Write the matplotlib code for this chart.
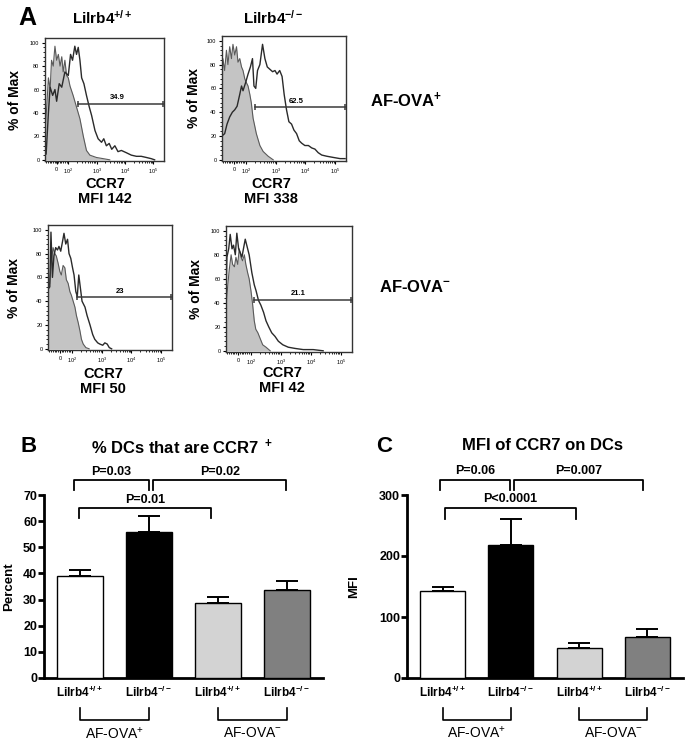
import numpy as np
import matplotlib as mp
mp.use('Agg')
import matplotlib.pyplot as plt

plt.rcParams['font.family'] = ['Liberation Sans', 'DejaVu Sans']
plt.rcParams['mathtext.default'] = 'regular'

# ---- panel A: histogram traces (x in log-display units, y in % of max) ----
# u: 2 = 10^2, 3 = 10^3 ...; "0" sits at about 1.59
g1_u = [1.18, 1.24, 1.30, 1.36, 1.41, 1.47, 1.53, 1.59, 1.65, 1.71, 1.77, 1.82, 1.88, 1.94, 2.00, 2.06, 2.17, 2.29, 2.41, 2.53, 2.64, 2.76, 2.99, 3.23, 3.46]
g1_y = [24, 45, 70, 60, 85, 80, 97, 85, 90, 80, 88, 75, 85, 72, 70, 63, 55, 45, 35, 20, 8, 4, 2, 1, 0]
s1_u = [1.22, 1.30, 1.36, 1.45, 1.53, 1.59, 1.68, 1.77, 1.88, 2.00, 2.08, 2.15, 2.23, 2.29, 2.35, 2.41, 2.47, 2.55, 2.64, 2.74, 2.82, 2.94, 3.05, 3.17, 3.25, 3.34, 3.44, 3.53, 3.64, 3.75, 3.87, 4.05, 4.22, 4.40, 4.57, 4.75, 4.92, 5.04]
s1_y = [5, 40, 62, 55, 60, 50, 65, 62, 75, 72, 90, 85, 97, 90, 96, 85, 70, 65, 55, 45, 38, 25, 18, 15, 18, 12, 14, 9, 12, 7, 8, 6, 4, 3, 3, 2, 1, 0]

g2_u = [1.18, 1.21, 1.27, 1.33, 1.38, 1.44, 1.50, 1.55, 1.61, 1.67, 1.72, 1.78, 1.84, 1.89, 1.95, 2.00, 2.06, 2.12, 2.17, 2.23, 2.29, 2.34, 2.46, 2.57, 2.74, 2.91]
g2_y = [68, 85, 75, 92, 80, 95, 85, 97, 88, 95, 82, 85, 78, 75, 68, 65, 62, 55, 48, 35, 28, 22, 12, 7, 3, 0]
s2_u = [1.18, 1.27, 1.35, 1.44, 1.53, 1.61, 1.69, 1.78, 1.84, 1.89, 1.98, 2.06, 2.14, 2.21, 2.26, 2.32, 2.38, 2.46, 2.55, 2.63, 2.71, 2.80, 2.89, 2.97, 3.04, 3.13, 3.21, 3.28, 3.36, 3.44, 3.53, 3.61, 3.70, 3.79, 3.87, 3.98, 4.10, 4.21, 4.32, 4.43, 4.55, 4.72, 4.94, 5.17, 5.34]
s2_y = [20, 22, 30, 36, 40, 42, 45, 55, 62, 58, 65, 72, 78, 85, 62, 60, 75, 80, 97, 85, 78, 76, 74, 75, 72, 75, 70, 55, 42, 32, 30, 25, 22, 16, 14, 12, 12, 10, 9, 6, 4, 3, 2, 1, 1]

g3_u = [1.18, 1.24, 1.29, 1.35, 1.41, 1.46, 1.52, 1.58, 1.63, 1.69, 1.75, 1.80, 1.86, 1.92, 1.97, 2.03, 2.09, 2.14, 2.20, 2.26, 2.31, 2.37, 2.46, 2.57]
g3_y = [50, 55, 72, 85, 80, 78, 72, 65, 62, 70, 68, 58, 55, 48, 45, 40, 35, 28, 22, 15, 8, 4, 1, 0]
s3_u = [1.18, 1.24, 1.28, 1.33, 1.38, 1.44, 1.50, 1.55, 1.61, 1.67, 1.72, 1.78, 1.84, 1.89, 1.95, 2.01, 2.06, 2.12, 2.17, 2.22, 2.28, 2.33, 2.43, 2.50, 2.60, 2.69, 2.76, 2.86, 2.93, 3.03, 3.10, 3.18, 3.25, 3.33]
s3_y = [50, 52, 98, 60, 78, 85, 83, 86, 82, 90, 97, 88, 92, 80, 76, 68, 62, 48, 44, 62, 50, 40, 35, 28, 20, 12, 8, 5, 4, 3, 5, 4, 1, 0]

g4_u = [1.18, 1.24, 1.29, 1.35, 1.40, 1.46, 1.51, 1.57, 1.62, 1.68, 1.73, 1.79, 1.84, 1.90, 1.95, 2.01, 2.06, 2.12, 2.17, 2.24, 2.32, 2.40, 2.51, 2.65]
g4_y = [37, 55, 68, 80, 72, 70, 78, 72, 85, 78, 75, 80, 72, 65, 60, 50, 40, 25, 18, 15, 10, 5, 3, 0]
s4_u = [1.18, 1.21, 1.27, 1.32, 1.38, 1.43, 1.49, 1.54, 1.60, 1.65, 1.71, 1.76, 1.82, 1.87, 1.95, 2.04, 2.12, 2.18, 2.26, 2.34, 2.43, 2.51, 2.60, 2.70, 2.81, 2.92, 3.07, 3.25, 3.47, 3.75, 4.08, 4.41]
s4_y = [45, 78, 85, 97, 85, 88, 80, 98, 85, 82, 78, 85, 93, 88, 80, 65, 55, 50, 42, 38, 32, 25, 20, 15, 12, 8, 5, 3, 2, 1, 1, 0]

gate_start = [2.35, 2.31, 2.16, 2.12]
gate_level = [48, 44, 43.6, 42.7]
gate_pct = ['34.9', '62.5', '23', '21.1']
mfi_text = ['MFI 142', 'MFI 338', 'MFI 50', 'MFI 42']

# ---- panels B and C ----
groups = ['Lilrb4$^{+/+}$', 'Lilrb4$^{-/-}$', 'Lilrb4$^{+/+}$', 'Lilrb4$^{-/-}$']
pct_mean = [39.0, 55.9, 28.6, 33.5]
pct_err = [2.3, 6.1, 2.5, 3.6]
mfi_mean = [142, 218, 48.5, 68]
mfi_err = [8, 43, 8.5, 13]
bar_colors = ['white', 'black', '#d3d3d3', '#808080']

W, H = 688, 741
fig = plt.figure(figsize=(W / 100, H / 100), dpi=100)


def box(l, t, r, b):
    return [l / W, 1 - b / H, (r - l) / W, (b - t) / H]


def ftext(x, y, s, **kw):
    fig.text(x / W, 1 - y / H, s, **kw)


XL, XR = 1.18, 5.37


def hist(rect, gu, gy, su, sy, k, lab_x):
    ax = fig.add_axes(rect)
    ax.fill_between(gu, gy, color='#c4c4c4', lw=0)
    ax.plot(gu, gy, color='#5a5a5a', lw=0.8)
    ax.plot(su, sy, color='#2a2a2a', lw=1.0)
    ax.plot([gate_start[k], XR - 0.02], [gate_level[k]] * 2, color='#3a3a3a', lw=1.1,
            marker='|', ms=5, mew=1.1, clip_on=False)
    ax.text(gate_start[k] + (XR - gate_start[k]) * 0.45, gate_level[k] + 2, gate_pct[k],
            fontsize=5.5, fontweight='bold', ha='center', va='bottom')
    ax.set_xlim(XL, XR)
    ax.set_ylim(-1, 104)
    ax.set_yticks([0, 20, 40, 60, 80, 100])
    ax.set_yticks(np.arange(0, 101, 4), minor=True)
    ax.set_xticks([1.59, 2, 3, 4, 5])
    ax.set_xticklabels(['0', '$10^2$', '$10^3$', '$10^4$', '$10^5$'])
    minor = list(np.arange(1.22, 2.0, 0.06))
    for d in [2, 3, 4]:
        minor += [d + np.log10(m) for m in range(2, 10)]
    ax.set_xticks(minor, minor=True)
    ax.tick_params(labelsize=4, length=2.5, width=0.8, pad=1.5)
    ax.tick_params(which='minor', length=1.5, width=0.6)
    for s in ax.spines.values():
        s.set_linewidth(1.0)
        s.set_color('#333333')
    ax.set_ylabel('% of Max', fontsize=10, fontweight='bold')
    ax.yaxis.set_label_coords(lab_x, 0.5)
    return ax


hist(box(45, 38, 164, 161), g1_u, g1_y, s1_u, s1_y, 0, -0.19)
hist(box(222, 36, 346, 161), g2_u, g2_y, s2_u, s2_y, 1, -0.17)
hist(box(48, 225, 172, 350), g3_u, g3_y, s3_u, s3_y, 2, -0.22)
hist(box(226, 226, 352, 352), g4_u, g4_y, s4_u, s4_y, 3, -0.18)

ftext(18, 18, 'A', fontsize=18, fontweight='bold', ha='left', va='center')
ftext(102, 18, 'Lilrb4$^{+/+}$', fontsize=11, fontweight='bold', ha='center', va='center')
ftext(273, 18, 'Lilrb4$^{-/-}$', fontsize=11, fontweight='bold', ha='center', va='center')
for (cx, cy), m in zip([(105, 184), (271, 184), (103, 374), (282, 373)], mfi_text):
    ftext(cx, cy, 'CCR7', fontsize=10.5, fontweight='bold', ha='center', va='center')
    ftext(cx, cy + 15, m, fontsize=10.5, fontweight='bold', ha='center', va='center')
ftext(370, 100, 'AF-OVA$^{+}$', fontsize=12, fontweight='bold', ha='left', va='center')
ftext(379, 287, 'AF-OVA$^{-}$', fontsize=12, fontweight='bold', ha='left', va='center')


def bars(rect, mean, err, ymax, step, ylabel, label_x):
    ax = fig.add_axes(rect)
    x = np.arange(len(mean))
    ax.bar(x, mean, width=0.66, color=bar_colors, edgecolor='black', linewidth=1.0, zorder=3)
    ax.errorbar(x, mean, yerr=[np.zeros(len(err)), err], fmt='none', ecolor='black',
                elinewidth=1.4, capsize=8, capthick=1.4, zorder=2)
    ax.set_xlim(-0.52, 3.52)
    ax.set_ylim(0, ymax)
    ax.set_yticks(np.arange(0, ymax + 1, step))
    ax.set_xticks(x)
    ax.set_xticklabels(groups, fontsize=8.5, fontweight='bold')
    ax.tick_params(axis='x', length=0, pad=5)
    ax.tick_params(axis='y', length=4, width=2, labelsize=9, pad=1)
    for t in ax.get_yticklabels():
        t.set_fontweight('bold')
    for s in ['top', 'right']:
        ax.spines[s].set_visible(False)
    for s in ['left', 'bottom']:
        ax.spines[s].set_linewidth(2)
    ax.set_ylabel(ylabel, fontsize=9.5, fontweight='bold')
    ax.yaxis.set_label_coords(label_x, 0.5)
    return ax


def bracket(ax, x0, x1, y, h, text):
    ax.plot([x0, x0, x1, x1], [y - h, y, y, y - h], color='black', lw=1.3, clip_on=False)
    ax.text((x0 + x1) / 2, y + h * 0.25, text, fontsize=9, fontweight='bold',
            ha='center', va='bottom')


def group_brackets(ax, y, h, ytext):
    for (a, b), lab in zip([(0, 1), (2, 3)], ['AF-OVA$^{+}$', 'AF-OVA$^{-}$']):
        ax.plot([a, a, b, b], [y + h, y, y, y + h], color='black', lw=1.2, clip_on=False)
        ax.text((a + b) / 2, ytext, lab, fontsize=10, ha='center', va='center')


axB = bars(box(44, 495, 323, 678), pct_mean, pct_err, 70, 10, 'Percent', -0.105)
bracket(axB, -0.09, 1.0, 75.7, 3.8, 'P=0.03')
bracket(axB, 1.06, 2.99, 75.7, 3.8, 'P=0.02')
bracket(axB, -0.01, 1.9, 65.0, 3.8, 'P=0.01')
group_brackets(axB, -16.1, 4.6, -21.2)
ftext(20, 447, 'B', fontsize=16, fontweight='bold', ha='left', va='center')
ftext(182, 447, '% DCs that are CCR7$^{\\ +}$', fontsize=12, fontweight='bold', ha='center', va='center')

axC = bars(box(407, 495, 683, 678), mfi_mean, mfi_err, 300, 100, 'MFI', -0.17)
bracket(axC, -0.03, 0.99, 324.6, 16.5, 'P=0.06')
bracket(axC, 1.04, 2.94, 324.6, 16.5, 'P=0.007')
bracket(axC, 0.03, 1.96, 278.7, 18, 'P<0.0001')
group_brackets(axC, -69, 20, -90)
ftext(376, 446, 'C', fontsize=16, fontweight='bold', ha='left', va='center')
ftext(543, 446, 'MFI of CCR7 on DCs', fontsize=12, fontweight='bold', ha='center', va='center')

plt.savefig('out.png', dpi=100)
